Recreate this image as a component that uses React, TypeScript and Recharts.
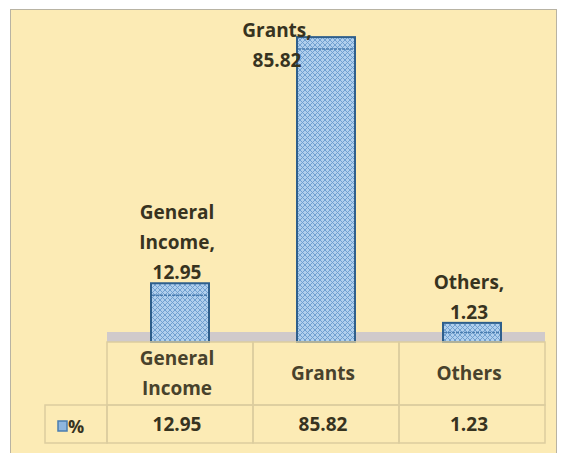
import React from "react";
import { Bar, BarChart, LabelList, XAxis, YAxis } from "recharts";

const categories = ["General Income", "Grants", "Others"];
const percentValues = [12.95, 85.82, 1.23];
const seriesName = "%";
const valueDomain = [0, 90];

const data = categories.map((category, i) => ({
  category,
  value: percentValues[i],
}));

const WIDTH = 562;
const HEIGHT = 453;
const MARGIN = { top: 23, right: 17, left: 107, bottom: 0 };
const BAND = (WIDTH - MARGIN.left - MARGIN.right) / categories.length;
const FLOOR = 15;
const LINE_H = 30;
const FONT = "'Open Sans', 'DejaVu Sans', sans-serif";
const TEXT = "#37331f";
const GRID = "#dccd9f";
const BAR_EDGE = "#2f5f8c";

// bar plus the grey "floor" strip of its category, so the bar sits on top of it
const BarShape = (props: any) => {
  const { x, y, width, height } = props;
  const h = height + FLOOR;
  const base = y + height;
  const cx = x + width / 2;
  return (
    <g>
      <rect x={cx - BAND / 2} y={base + 5} width={BAND} height={10} fill="#d0cacb" />
      <rect
        x={x}
        y={y}
        width={width}
        height={h}
        fill="url(#hatch)"
        stroke={BAR_EDGE}
        strokeWidth={2}
      />
      <line
        x1={x + 1}
        x2={x + width - 1}
        y1={y + Math.min(12, h / 2)}
        y2={y + Math.min(12, h / 2)}
        stroke="#4a7db0"
        strokeWidth={1.5}
        strokeDasharray="3 1"
      />
    </g>
  );
};

const BarLabel = (props: any) => {
  const { x, y, width, value } = props;
  const idx = props.index ?? percentValues.indexOf(value);
  const words = categories[idx].split(" ");
  const lines = [...words.slice(0, -1), words[words.length - 1] + ",", String(value)];
  const n = lines.length;
  let cx = x + width / 2 - 3;
  let firstY = y - 11 - (n - 1) * LINE_H;
  if (firstY < 20) {
    // no room above the bar: put it beside, like the original
    cx = x - 20;
    firstY = y - 7;
  }
  return (
    <g>
      {lines.map((t, i) => (
        <text
          key={i}
          x={cx}
          y={firstY + i * LINE_H}
          textAnchor="middle"
          dominantBaseline="central"
          fontFamily={FONT}
          fontWeight={700}
          fontSize={19}
          fill={TEXT}
        >
          {t}
        </text>
      ))}
    </g>
  );
};

const TableTick = (props: any) => {
  const { x, y, payload, index } = props;
  const left = x - BAND / 2;
  const idx = index ?? categories.indexOf(payload.value);
  const words = String(payload.value).split(" ");
  const headTop = y + FLOOR;
  const rowTop = headTop + 63;
  const rowH = 38;
  const headMid = headTop + 31;
  return (
    <g>
      <rect x={left} y={headTop} width={BAND} height={63} fill="none" stroke={GRID} strokeWidth={1.5} />
      <rect x={left} y={rowTop} width={BAND} height={rowH} fill="none" stroke={GRID} strokeWidth={1.5} />
      {words.map((w, i) => (
        <text
          key={i}
          x={x - 3}
          y={headMid + (i - (words.length - 1) / 2) * LINE_H}
          textAnchor="middle"
          dominantBaseline="central"
          fontFamily={FONT}
          fontWeight={700}
          fontSize={19}
          fill="#48422c"
        >
          {w}
        </text>
      ))}
      <text
        x={x - 3}
        y={rowTop + rowH / 2}
        textAnchor="middle"
        dominantBaseline="central"
        fontFamily={FONT}
        fontWeight={700}
        fontSize={19}
        fill={TEXT}
      >
        {percentValues[idx]}
      </text>
      {idx === 0 && (
        <g>
          <rect x={left - 62} y={rowTop} width={62} height={rowH} fill="none" stroke={GRID} strokeWidth={1.5} />
          <rect x={left - 49} y={rowTop + 16} width={9} height={10} fill="#8fb6de" stroke="#4a7db0" strokeWidth={1.5} />
          <text
            x={left - 39}
            y={rowTop + rowH / 2 + 2}
            dominantBaseline="central"
            fontFamily={FONT}
            fontWeight={700}
            fontSize={18}
            fill={TEXT}
          >
            {seriesName}
          </text>
        </g>
      )}
    </g>
  );
};

export default function App() {
  return (
    <div
      style={{
        position: "absolute",
        left: 0,
        top: 0,
        width: WIDTH,
        height: HEIGHT,
        background: "#ffffff",
        overflow: "hidden",
      }}
    >
      <div
        style={{
          position: "absolute",
          left: 10,
          top: 9,
          width: 547,
          height: 460,
          background: "#fcebb5",
          border: "1px solid #b8b3a3",
          boxSizing: "border-box",
        }}
      />
      <div style={{ position: "absolute", left: 0, top: 0 }}>
        <BarChart width={WIDTH} height={HEIGHT} data={data} margin={MARGIN}>
          <defs>
            <pattern id="hatch" patternUnits="userSpaceOnUse" width="5" height="5">
              <rect width="5" height="5" fill="#b0cfed" />
              <path d="M0,0 L5,5 M5,0 L0,5" stroke="#6a9bcd" strokeWidth={0.9} />
            </pattern>
          </defs>
          <XAxis
            dataKey="category"
            height={126}
            axisLine={false}
            tickLine={false}
            tickSize={0}
            tickMargin={0}
            interval={0}
            tick={<TableTick />}
          />
          <YAxis hide domain={valueDomain} />
          <Bar
            dataKey="value"
            barSize={58}
            shape={<BarShape />}
            isAnimationActive={false}
          >
            <LabelList dataKey="value" content={<BarLabel />} />
          </Bar>
        </BarChart>
      </div>
    </div>
  );
}
